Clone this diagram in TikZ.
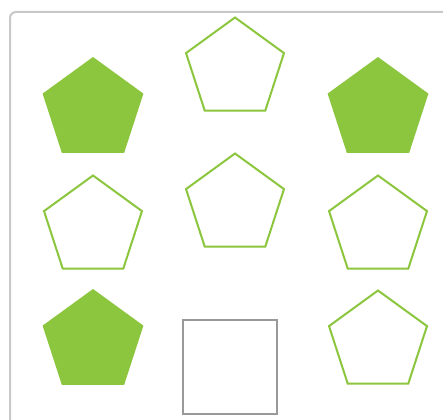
\documentclass[tikz,border=0pt]{standalone}
\usetikzlibrary{shapes.geometric}
\definecolor{pentGreen}{HTML}{8CC63E}
\definecolor{frameGray}{HTML}{C8C8C8}
\definecolor{boxGray}{HTML}{999999}
\begin{document}
\begin{tikzpicture}[x=1pt,y=-1pt,line join=miter]
\clip (0,0) rectangle (443,419);
\path[fill=white] (0,0) rectangle (443,419);
\draw[draw=frameGray,line width=2pt,rounded corners=6pt] (10,12) rectangle (460,440);
\tikzset{pent/.style={regular polygon,regular polygon sides=5,minimum size=103pt,inner sep=0pt},full/.style={pent,fill=pentGreen,minimum size=106pt},hollow/.style={pent,draw=pentGreen,line width=2pt,fill=white},blank/.style={draw=boxGray,line width=2pt,minimum width=94pt,minimum height=94pt,inner sep=0pt}}
% row one
\node[full] (p11) at (93,110) {}; \node[hollow] (p12) at (235,69) {}; \node[full] (p13) at (378,110) {};
% row two
\node[hollow] (p21) at (93,227) {}; \node[hollow] (p22) at (235,205) {}; \node[hollow] (p23) at (378,227) {};
% row three, the missing one in the middle
\node[full] (p31) at (93,342) {}; \node[blank] (p32) at (230,367) {}; \node[hollow] (p33) at (378,342) {};
\end{tikzpicture}
\end{document}
